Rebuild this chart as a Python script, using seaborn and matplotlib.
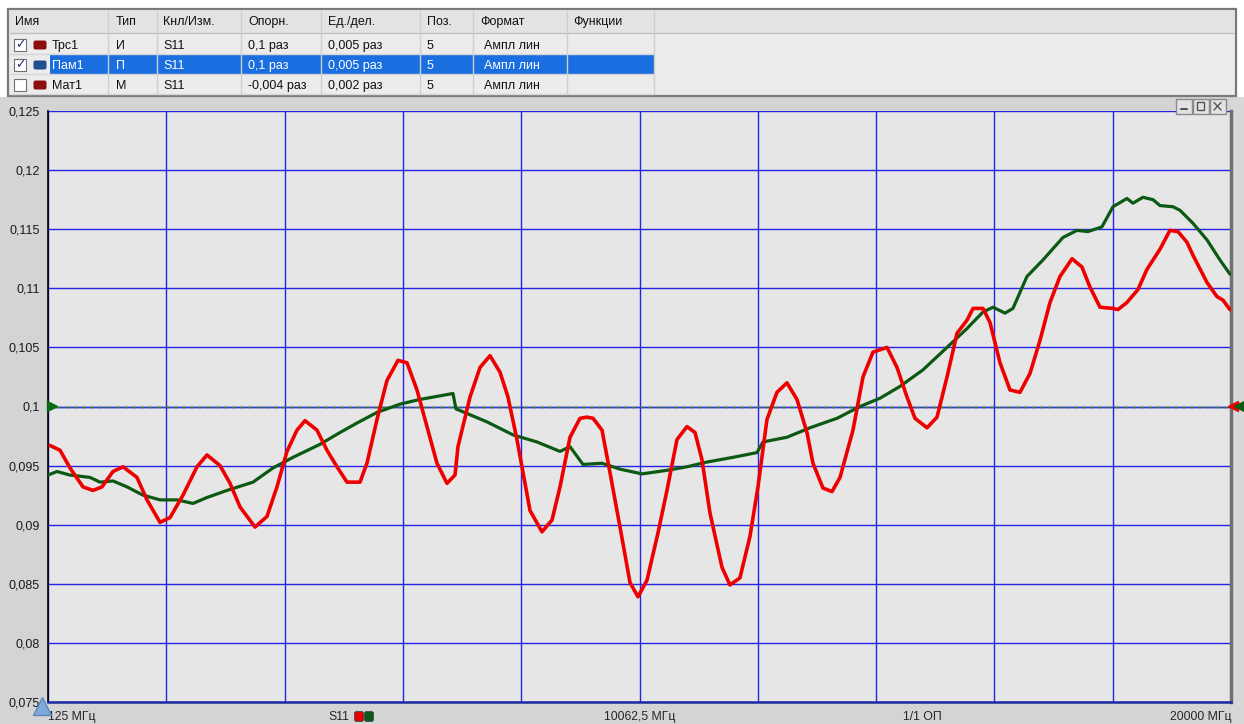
import numpy as np
import pandas as pd
import matplotlib
matplotlib.use("Agg")
import matplotlib.pyplot as plt
from matplotlib.patches import Rectangle, FancyBboxPatch
from matplotlib.ticker import FuncFormatter
import seaborn as sns

# trace data (MHz, linear magnitude)
red_f = [159, 327, 495, 713, 881, 1032, 1217, 1385, 1620, 1788, 2007, 2175, 2393, 2628,
         2796, 3015, 3183, 3351, 3603, 3804, 3972, 4140, 4308, 4443, 4644, 4812, 4980,
         5148, 5367, 5484, 5652, 5820, 6005, 6156, 6324, 6492, 6660, 6828, 6963, 7013,
         7215, 7383, 7551, 7719, 7853, 8004, 8223, 8424, 8593, 8727, 8895, 9063, 9181,
         9282, 9433, 9567, 9735, 9903, 10037, 10188, 10373, 10524, 10692, 10860, 10995,
         11112, 11246, 11448, 11582, 11750, 11918, 12053, 12204, 12372, 12540, 12708,
         12876, 12977, 13145, 13296, 13431, 13649, 13817, 13985, 14221, 14389, 14557,
         14691, 14893, 15061, 15229, 15397, 15565, 15666, 15834, 15951, 16119, 16287,
         16455, 16623, 16791, 16959, 17127, 17329, 17496, 17631, 17799, 18017, 18101,
         18252, 18437, 18588, 18806, 18974, 19109, 19260, 19361, 19596, 19764, 19865, 19982]
red_v = [0.0967, 0.0963, 0.0948, 0.0932, 0.0929, 0.0932, 0.0945, 0.0949, 0.0940, 0.0921,
         0.0902, 0.0906, 0.0925, 0.0949, 0.0959, 0.0950, 0.0935, 0.0915, 0.0898, 0.0907,
         0.0932, 0.0962, 0.0980, 0.0988, 0.0980, 0.0963, 0.0949, 0.0936, 0.0936, 0.0952,
         0.0989, 0.1022, 0.1039, 0.1037, 0.1014, 0.0983, 0.0952, 0.0935, 0.0942, 0.0966,
         0.1008, 0.1033, 0.1043, 0.1029, 0.1008, 0.0972, 0.0912, 0.0894, 0.0904, 0.0932,
         0.0974, 0.0990, 0.0991, 0.0990, 0.0980, 0.0944, 0.0898, 0.0851, 0.0839, 0.0853,
         0.0893, 0.0929, 0.0972, 0.0983, 0.0978, 0.0955, 0.0910, 0.0864, 0.0849, 0.0855,
         0.0890, 0.0932, 0.0989, 0.1012, 0.1020, 0.1006, 0.0978, 0.0952, 0.0931, 0.0928,
         0.0940, 0.0980, 0.1025, 0.1046, 0.1050, 0.1033, 0.1008, 0.0990, 0.0982, 0.0991,
         0.1025, 0.1062, 0.1073, 0.1083, 0.1083, 0.1071, 0.1037, 0.1014, 0.1012, 0.1028,
         0.1056, 0.1088, 0.1110, 0.1125, 0.1118, 0.1101, 0.1084, 0.1083, 0.1082, 0.1088,
         0.1099, 0.1116, 0.1133, 0.1149, 0.1148, 0.1139, 0.1128, 0.1105, 0.1093, 0.1090,
         0.1082]

green_f = [125, 276, 495, 831, 999, 1217, 1452, 1721, 2007, 2292, 2561, 2796, 3132, 3569,
           3905, 4241, 4695, 5031, 5316, 5652, 6039, 6375, 6711, 6929, 6979, 7500, 7937,
           8340, 8727, 8895, 9113, 9433, 9735, 10104, 10524, 10860, 11196, 11633, 12036,
           12137, 12540, 12927, 13380, 13767, 14103, 14439, 14825, 15229, 15565, 15834,
           16002, 16203, 16337, 16572, 16841, 17177, 17412, 17597, 17832, 18017, 18252,
           18353, 18521, 18689, 18806, 19025, 19143, 19361, 19596, 19814, 19982]
green_v = [0.0942, 0.0945, 0.0942, 0.0940, 0.0936, 0.0937, 0.0932, 0.0925, 0.0921, 0.0921,
           0.0918, 0.0923, 0.0929, 0.0936, 0.0948, 0.0957, 0.0968, 0.0978, 0.0986, 0.0995,
           0.1002, 0.1006, 0.1009, 0.1011, 0.0998, 0.0987, 0.0976, 0.0970, 0.0962, 0.0966,
           0.0951, 0.0952, 0.0947, 0.0943, 0.0946, 0.0949, 0.0953, 0.0957, 0.0961, 0.0970,
           0.0974, 0.0982, 0.0990, 0.1000, 0.1007, 0.1017, 0.1031, 0.1050, 0.1066, 0.1080,
           0.1084, 0.1079, 0.1083, 0.1110, 0.1124, 0.1143, 0.1149, 0.1148, 0.1152, 0.1169,
           0.1176, 0.1172, 0.1177, 0.1175, 0.1170, 0.1169, 0.1166, 0.1155, 0.1141, 0.1124,
           0.1112]

f_start, f_stop = 125, 20000
ref_level = 0.1
y_ticks = [0.075, 0.08, 0.085, 0.09, 0.095, 0.1, 0.105, 0.11, 0.115, 0.12, 0.125]

# table contents
headers = ["Имя", "Тип", "Кнл/Изм.", "Опорн.", "Ед./дел.", "Поз.", "Формат", "Функции"]
rows = [["Трс1", "И", "S11", "0,1 раз", "0,005 раз", "5", "Ампл лин", ""],
        ["Пам1", "П", "S11", "0,1 раз", "0,005 раз", "5", "Ампл лин", ""],
        ["Мат1", "М", "S11", "-0,004 раз", "0,002 раз", "5", "Ампл лин", ""]]
checked = [True, True, False]
col_x = [52, 116, 163, 248, 328, 427, 484, 573]
head_x = [15, 116, 163, 248, 328, 427, 480, 573]
col_sep = [108, 157, 241, 321, 420, 473, 567, 654]

sns.set_style("white")
plt.rcParams["font.family"] = ["Liberation Sans", "DejaVu Sans"]
plt.rcParams["font.size"] = 9

W, H = 1244, 724
fig = plt.figure(figsize=(W / 100, H / 100), dpi=100)
fig.patch.set_facecolor("white")

# background "widgets" in pixel coords
ui = fig.add_axes([0, 0, 1, 1], zorder=0)
ui.set_xlim(0, W)
ui.set_ylim(H, 0)
ui.axis("off")

# chart panel
ui.add_patch(Rectangle((0, 97), W, H - 97, fc="#d4d4d4", ec="none"))
ui.add_patch(Rectangle((1231, 97), 13, H - 97, fc="#d8d8d8", ec="none"))

# table
ui.add_patch(Rectangle((8, 9), 1228, 87, fc="#ececec", ec="#7a7a7a", lw=1.6))
ui.add_patch(Rectangle((10, 11), 1224, 22, fc="#e3e3e3", ec="none"))
ui.plot([10, 1234], [33, 33], color="#c0c0c0", lw=1)
for yy in [54, 74, 94]:
    ui.plot([10, 654], [yy, yy], color="#d6d6d6", lw=1)
for xs in col_sep:
    ui.plot([xs, xs], [11, 94], color="#cfcfcf", lw=1)
# selected row
ui.add_patch(Rectangle((50, 55), 604, 19, fc="#1a6ee0", ec="none"))

for hx, h in zip(head_x, headers):
    ui.text(hx, 22, h, fontsize=9, va="center", ha="left", color="#111111")

for i, r in enumerate(rows):
    yc = 45 + i * 20
    ui.add_patch(Rectangle((14, yc - 6), 12, 12, fc="white", ec="#707070", lw=0.8))
    if checked[i]:
        ui.text(20, yc, "✓", fontsize=9, ha="center", va="center", color="#22337a",
                family=["DejaVu Sans"], fontweight="bold")
    sq_col = "#1f4f8e" if i == 1 else "#8c0d0d"
    ui.add_patch(FancyBboxPatch((34, yc - 4), 12, 8, boxstyle="round,pad=0.5,rounding_size=2",
                                fc=sq_col, ec="none"))
    tcol = "white" if i == 1 else "#111111"
    for cx, t in zip(col_x, r):
        ui.text(cx, yc + 1, t, fontsize=9, va="center", ha="left", color=tcol)

# bottom labels
ui.text(48, 717, "125 МГц", fontsize=8.8, ha="left", va="center")
ui.text(328, 717, "S11", fontsize=8.8, ha="left", va="center")
ui.add_patch(FancyBboxPatch((355, 712), 8, 9, boxstyle="round,pad=0.3,rounding_size=1.5",
                            fc="#ee0000", ec="#333333", lw=0.6))
ui.add_patch(FancyBboxPatch((365, 712), 8, 9, boxstyle="round,pad=0.3,rounding_size=1.5",
                            fc="#0b5a12", ec="#333333", lw=0.6))
ui.text(640, 717, "10062,5 МГц", fontsize=8.8, ha="center", va="center")
ui.text(922, 717, "1/1 ОП", fontsize=8.8, ha="center", va="center")
ui.text(1231, 717, "20000 МГц", fontsize=8.8, ha="right", va="center")

# plot area
x0, y0, x1, y1 = 48, 111, 1231, 702
ax = fig.add_axes([x0 / W, (H - y1) / H, (x1 - x0) / W, (y1 - y0) / H], zorder=2)
ax.set_facecolor("#e6e6e6")

red_df = pd.DataFrame({"freq": red_f, "val": red_v})
green_df = pd.DataFrame({"freq": green_f, "val": green_v})

ax.axhline(ref_level, color="#3333dd", lw=1, zorder=1)
ax.axhline(ref_level, color="#2e7d32", lw=1, ls=(0, (3, 3)), zorder=1)
sns.lineplot(data=green_df, x="freq", y="val", ax=ax, color="#0b5a12", lw=2.3,
             estimator=None, sort=False, zorder=3)
sns.lineplot(data=red_df, x="freq", y="val", ax=ax, color="#ee0000", lw=2.6,
             estimator=None, sort=False, zorder=4)

ax.set_xlim(f_start, f_stop)
ax.set_ylim(y_ticks[0], y_ticks[-1])
ax.set_xticks(np.linspace(f_start, f_stop, 11))
ax.set_xticklabels([])
ax.set_yticks(y_ticks)
ax.yaxis.set_major_formatter(FuncFormatter(lambda v, p: "{:g}".format(round(v, 4)).replace(".", ",")))
ax.grid(True, color="#2424e6", lw=1)
ax.set_axisbelow(True)
ax.set_xlabel("")
ax.set_ylabel("")
ax.tick_params(axis="y", length=4, width=0.8, color="#555555", labelsize=9,
               labelcolor="#1a1a1a", pad=2)
ax.tick_params(axis="x", length=4, width=0.8, color="#555555", direction="out")
ax.spines["top"].set_visible(False)
ax.spines["left"].set_color("black")
ax.spines["left"].set_linewidth(1.2)
ax.spines["bottom"].set_color("#1c2aa0")
ax.spines["bottom"].set_linewidth(1.8)
ax.spines["right"].set_color("#707070")
ax.spines["right"].set_linewidth(2.5)

# reference / marker triangles and window buttons on top
over = fig.add_axes([0, 0, 1, 1], zorder=5)
over.set_xlim(0, W)
over.set_ylim(H, 0)
over.axis("off")
over.plot([52], [406], marker=">", ms=7, color="#0b6a12", ls="none")
over.plot([1233], [406], marker="<", ms=7, color="#ee0000", ls="none")
over.plot([1239], [406], marker="<", ms=7, color="#0b5a12", ls="none")
over.plot([42], [706], marker="^", ms=13, color="#7fa8d8", mec="#5d86b8", ls="none")

for k in range(3):
    bx = 1176 + k * 17
    over.add_patch(Rectangle((bx, 99), 16, 15, fc="#e2e2e2", ec="#8a8a8a", lw=1))
over.plot([1181, 1187], [109, 109], color="#555555", lw=1.5)
over.add_patch(Rectangle((1197, 102), 7, 8, fc="none", ec="#555555", lw=1))
over.plot([1214, 1221], [102.5, 110], color="#555555", lw=1)
over.plot([1214, 1221], [110, 102.5], color="#555555", lw=1)

fig.savefig("out.png", dpi=100)
